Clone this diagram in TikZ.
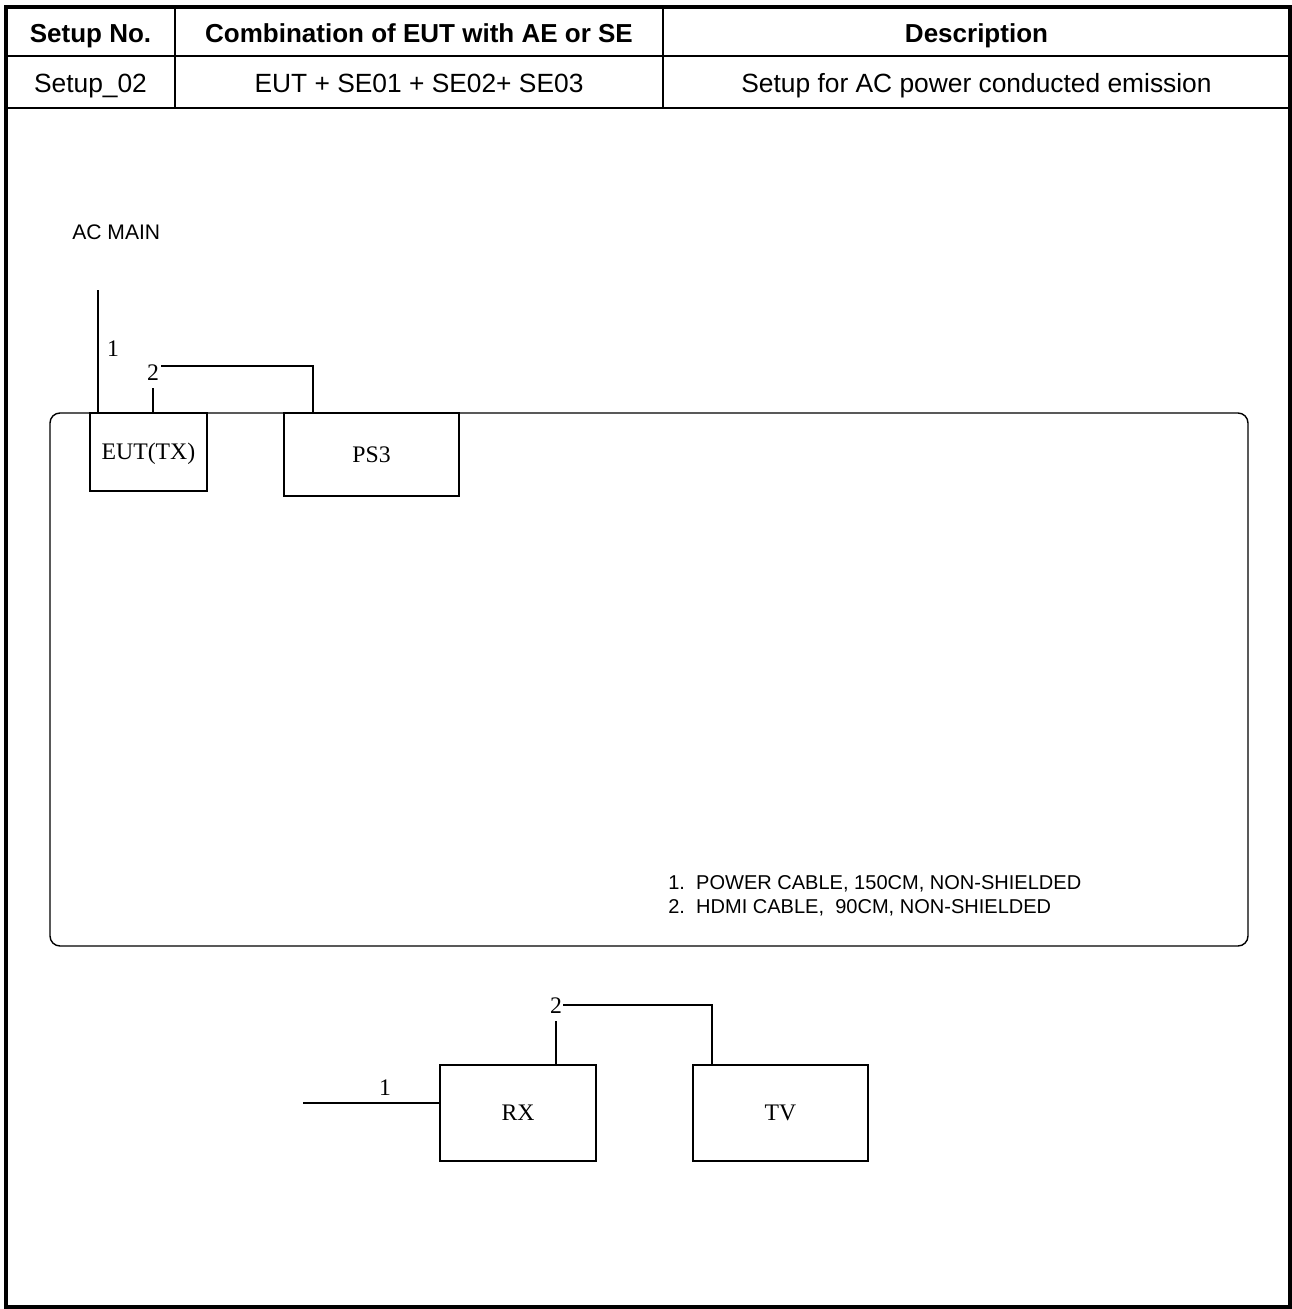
\documentclass[tikz,border=0pt]{standalone}
\usepackage{fontspec}
\setmainfont{Liberation Sans}
\newfontfamily\tnr{Liberation Serif}

\begin{document}
\begin{tikzpicture}[x=0.02cm,y=-0.02cm,
   unit/.style={draw,line width=0.8pt,inner sep=0pt,text height=8.9pt,text depth=0pt,
      font=\tnr\fontsize{13.5}{16}\selectfont},
   num/.style={inner sep=0pt,font=\tnr\fontsize{13.5}{16}\selectfont},
   cell/.style={inner sep=0pt,text height=10.7pt,text depth=0pt,font=\fontsize{15}{18}\selectfont},
   head/.style={cell,font=\bfseries\fontsize{14.8}{18}\selectfont},
   note/.style={inner sep=0pt,anchor=west,font=\fontsize{11.4}{13}\selectfont},
   cable/.style={line width=0.8pt}]
\useasboundingbox (0,0) rectangle (1292,1309);
% table
\draw[line width=1.8pt] (6,7) rectangle (1290,1307);
\draw[line width=1.3pt] (6,56) -- (1290,56) (6,108) -- (1290,108)
   (175,7) -- (175,108) (663,7) -- (663,108);
\node[head] (hdNo) at (90.5,33.5) {Setup No.};
\node[head] (hdComb) at (419,33.5) {Combination of EUT with AE or SE};
\node[head] (hdDesc) at (976.5,33.5) {Description};
\node[cell] (setup) at (90.5,83) {Setup\_02};
\node[cell] (comb) at (419,83) {EUT + SE01 + SE02+ SE03};
\node[cell] (desc) at (976.5,83) {Setup for AC power conducted emission};
% table top
\draw[cable,rounded corners=0.2cm] (50,413) rectangle (1248,946);
\node[cell,text height=8.6pt,font=\fontsize{12}{14}\selectfont,anchor=west] (acmain) at (72,232) {AC MAIN};
\node[unit,minimum width=2.34cm,minimum height=1.56cm] (eut) at (148.5,452) {EUT(TX)};
\node[unit,minimum width=3.5cm,minimum height=1.66cm] (ps3) at (371.5,454.5) {PS3};
\coordinate (acTop) at (98,290);
\coordinate (hdmiA) at (153,388);
\coordinate (hdmiB) at (161,366);
\coordinate (ps3in) at (313,413);
\draw[cable] (acTop) -- (acTop |- eut.north);
\draw[cable] (hdmiA) -- (hdmiA |- eut.north);
\draw[cable] (hdmiB) -| (ps3in);
\node[num] (n1a) at (113,349) {1};
\node[num] (n2a) at (153,373) {2};
\node[note] (noteA) at (668,884) {1.\ \ POWER CABLE, 150CM, NON-SHIELDED};
\node[note] (noteB) at (668,908) {2.\ \ HDMI CABLE,\ \ 90CM, NON-SHIELDED};
% floor
\node[unit,minimum width=3.12cm,minimum height=1.92cm] (rx) at (518,1113) {RX};
\node[unit,minimum width=3.5cm,minimum height=1.92cm] (tv) at (780.5,1113) {TV};
\coordinate (pwr) at (303,1103);
\coordinate (hdmiC) at (556,1021);
\coordinate (hdmiD) at (563,1005);
\coordinate (tvin) at (712,1065);
\draw[cable] (pwr) -- (pwr -| rx.west);
\draw[cable] (hdmiC) -- (hdmiC |- rx.north);
\draw[cable] (hdmiD) -| (tvin);
\node[num] (n1b) at (385,1088) {1};
\node[num] (n2b) at (556,1006) {2};
\end{tikzpicture}
\end{document}
